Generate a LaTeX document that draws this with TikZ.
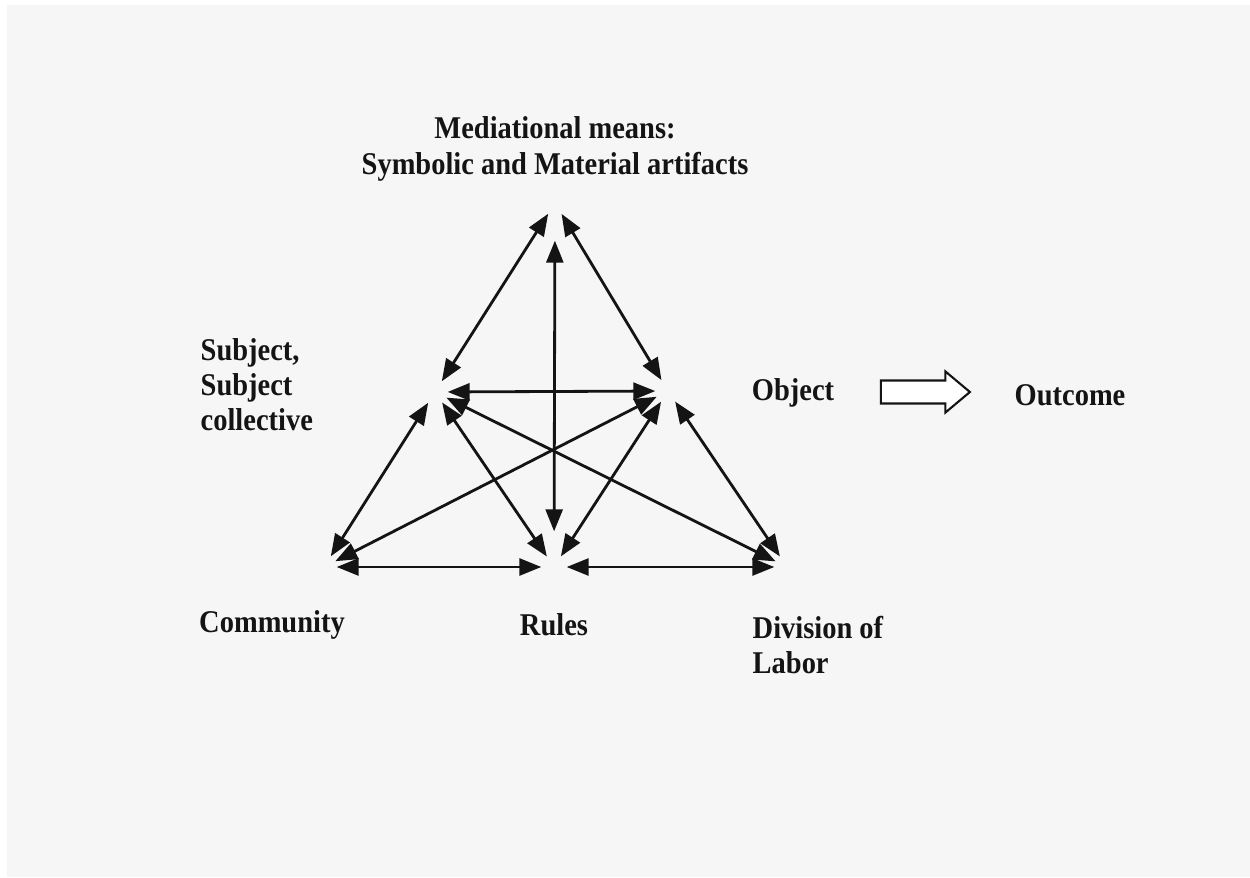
\documentclass[tikz,border=0pt]{standalone}
\usepackage{fontspec}
\setmainfont{Liberation Serif}[FakeStretch=0.9]
\usetikzlibrary{arrows.meta,positioning,shapes.arrows}
\definecolor{paper}{RGB}{246,246,246}
\definecolor{ink}{RGB}{20,20,20}

\begin{document}
\begin{tikzpicture}[
  every node/.style={font=\fontsize{9}{10}\selectfont\bfseries, text=ink},
  vx/.style={circle, inner sep=0pt, minimum size=2.4mm},
  lbl/.style={align=left, inner sep=0pt},
  link/.style={draw=ink, line width=0.8pt,
    {Triangle[length=2.2mm,width=1.7mm]}-{Triangle[length=2.2mm,width=1.7mm]}},
  flow/.style={single arrow, draw=ink, line width=0.6pt, fill=white,
    inner sep=0.105cm, minimum height=0.89cm,
    single arrow head extend=0.09cm, single arrow tip angle=80}]
\useasboundingbox (0,0) rectangle (12.5,8.77);
\fill[white] (0,0) rectangle (12.5,8.77);
\fill[paper] (0.07,0) rectangle (12.5,8.72);
% the six corners of the activity system
\node[vx] (m) at (5.55,6.74) {};
\node[vx] (s) at (4.35,4.85) {};
\node[vx] (o) at (6.68,4.86) {};
\node[vx] (c) at (3.24,3.10) {};
\node[vx] (r) at (5.54,3.10) {};
\node[vx] (d) at (7.87,3.10) {};
% labels
\node[align=center, inner sep=0pt] (tool) at (5.55,7.28)
  {Mediational means:\\Symbolic and Material artifacts};
\node[lbl, anchor=west] (subj) at (2.00,4.92) {Subject,\\Subject\\collective};
\node[inner sep=0pt] (obj) at (7.93,4.84) {Object};
\node[inner sep=0pt] (outc) at (10.70,4.82) {Outcome};
\node[inner sep=0pt] (comm) at (2.72,2.52) {Community};
\node[inner sep=0pt] (rules) at (5.54,2.52) {Rules};
\node[lbl, anchor=west] (div) at (7.52,2.32) {Division of\\Labor};
\node[flow] (toout) at (9.185,4.85) {};
% connectors
\draw[link] (m) -- (s); \draw[link] (m) -- (o);
\draw[link, shorten <=2.3mm, shorten >=2.5mm] (r) -- (m);
\draw[link] (s) -- (o);
\draw[link] (s) -- (c); \draw[link] (s) -- (r); \draw[link] (s) -- (d);
\draw[link] (o) -- (c); \draw[link] (o) -- (r); \draw[link] (o) -- (d);
\draw[link] (c) -- (r); \draw[link] (r) -- (d);
\end{tikzpicture}
\end{document}
